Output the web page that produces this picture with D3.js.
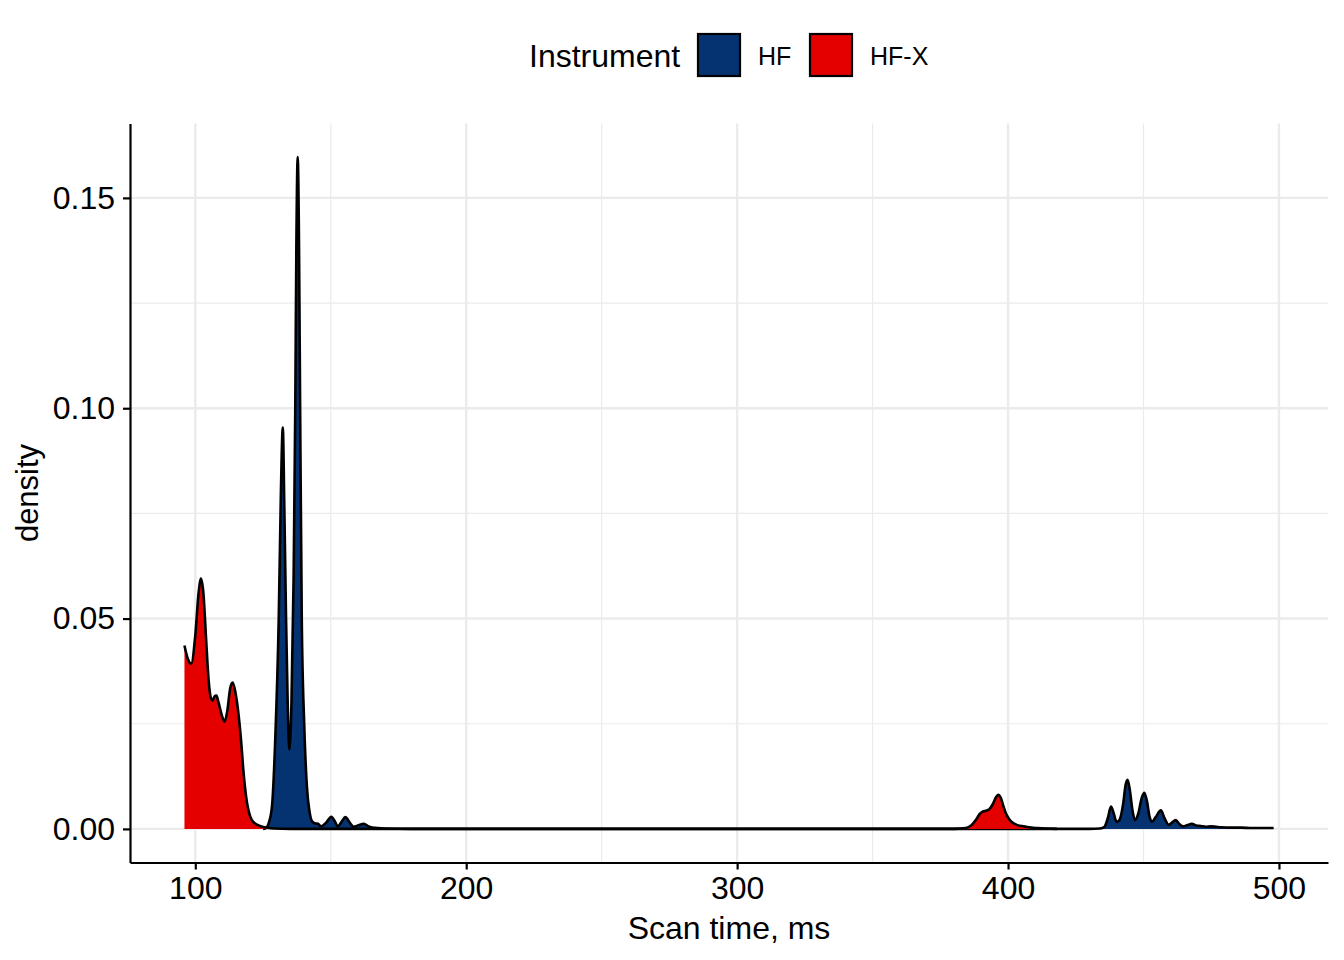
<!DOCTYPE html>
<html>
<head>
<meta charset="utf-8">
<script src="https://cdn.jsdelivr.net/npm/d3@7"></script>
<style>
  body { margin: 0; background: #fff; }
  text { font-family: "Liberation Sans", Arial, sans-serif; fill: #000; }
</style>
</head>
<body>
<script>
const instruments = ["HF", "HF-X"];

const hfScanTime = [125, 126.3, 127.1, 128.3, 129.5, 130.8, 131.6, 132.3, 132.9, 133.5, 134.1, 134.7,
  135.5, 136.3, 136.9, 137.3, 137.8, 138.3, 138.7, 139.3, 140.2, 141.2, 142.2, 143.1, 144.3, 145.3,
  146.4, 148.3, 150.2, 151.5, 152.6, 154, 155.4, 157, 158.5, 160.3, 162.2, 164, 165.3, 170, 180, 250,
  350, 430, 434, 435.5, 436.8, 438, 439.1, 440, 441, 442.5, 443.4, 444.1, 444.9, 445.9, 446.9, 448,
  449.4, 450.3, 451.3, 452.2, 453.1, 454.5, 456.4, 457.8, 459.3, 460.5, 461.9, 463.2, 464.6, 466.2,
  467.8, 469.5, 471.2, 473, 474.9, 476.8, 478.6, 482, 486, 490, 494, 498];
const hfDensity = [0, 0.0003, 0.0014, 0.0053, 0.021, 0.05, 0.08, 0.0954, 0.075, 0.05, 0.03, 0.0188,
  0.03, 0.06, 0.1, 0.138, 0.1597, 0.138, 0.1, 0.05, 0.025, 0.01, 0.004, 0.0018, 0.0013, 0.0012,
  0.0006, 0.0015, 0.0029, 0.0018, 0.0006, 0.0017, 0.0028, 0.0015, 0.0005, 0.0009, 0.0012, 0.0006,
  0.0003, 0.0001, 0, 0, 0, 0, 0.0001, 0.0004, 0.0025, 0.0053, 0.0035, 0.0017, 0.002, 0.006, 0.0105,
  0.0117, 0.0095, 0.0045, 0.0021, 0.0035, 0.0075, 0.0086, 0.0065, 0.003, 0.0017, 0.0028, 0.0044,
  0.0025, 0.001, 0.0015, 0.0021, 0.0012, 0.0006, 0.0009, 0.0012, 0.0008, 0.0007, 0.0005, 0.0006,
  0.0005, 0.0004, 0.0003, 0.0003, 0.0002, 0.0002, 0.0002];

const hfxScanTime = [96, 97.2, 98.5, 100, 101.2, 102.1, 103, 104, 104.9, 105.8, 106.4, 107.1, 107.8,
  108.6, 109.8, 110.8, 111.8, 112.9, 113.8, 114.8, 116, 116.9, 117.8, 118.8, 120.3, 121.5, 122.8,
  124.5, 126.5, 129, 135, 200, 300, 380, 384.4, 386.5, 388.1, 389.5, 390.6, 391.8, 393.1, 394.6,
  395.6, 396.4, 397.3, 398.2, 399.2, 400.3, 401.6, 403.5, 405.9, 408.5, 410.9, 414, 418];
const hfxDensity = [0.0436, 0.0405, 0.0393, 0.046, 0.056, 0.0595, 0.056, 0.045, 0.0355, 0.031, 0.0305,
  0.0315, 0.0317, 0.03, 0.027, 0.0255, 0.028, 0.0335, 0.0348, 0.0325, 0.027, 0.021, 0.0135, 0.0075,
  0.0029, 0.0016, 0.001, 0.0006, 0.0003, 0.0001, 0, 0, 0, 0, 0.0002, 0.0009, 0.0021, 0.0035, 0.0041,
  0.0043, 0.0047, 0.0062, 0.0076, 0.0081, 0.0074, 0.0056, 0.0037, 0.0024, 0.0015, 0.0009, 0.0006,
  0.0003, 0.0002, 0.0001, 0];

const xTicks = [100, 200, 300, 400, 500];
const xMinorTicks = [150, 250, 350, 450];
const yTicks = [0, 0.05, 0.10, 0.15];
const yMinorTicks = [0.025, 0.075, 0.125];

const series = [
  {name: "HF", values: hfScanTime.map((x, i) => ({x: x, y: hfDensity[i]}))},
  {name: "HF-X", values: hfxScanTime.map((x, i) => ({x: x, y: hfxDensity[i]}))}
];

// Dimensions
const W = 1344, H = 960;
const margin = {top: 123.5, right: 16, bottom: 97.5, left: 130};
const width = W - margin.left - margin.right;
const height = H - margin.top - margin.bottom;

const svg = d3.select("body").append("svg")
    .attr("width", W)
    .attr("height", H);

const g = svg.append("g")
    .attr("transform", "translate(" + margin.left + "," + margin.top + ")");

// Scales with ggplot-like 5% expansion
const allX = hfScanTime.concat(hfxScanTime);
const xMin = d3.min(allX), xMax = d3.max(allX);
const xPad = (xMax - xMin) * 0.05;
const xScale = d3.scaleLinear()
    .domain([xMin - xPad, xMax + xPad])
    .range([0, width]);

const yMax = d3.max(hfDensity.concat(hfxDensity));
const yScale = d3.scaleLinear()
    .domain([-yMax * 0.05, yMax * 1.05])
    .range([height, 0]);

const colorScale = d3.scaleOrdinal()
    .domain(instruments)
    .range(["#053372", "#E50000"]);

// Grid lines
g.selectAll(".xminor").data(xMinorTicks).enter().append("line")
    .attr("x1", d => xScale(d)).attr("x2", d => xScale(d))
    .attr("y1", 0).attr("y2", height)
    .attr("stroke", "#EBEBEB").attr("stroke-width", 1.2);

g.selectAll(".yminor").data(yMinorTicks).enter().append("line")
    .attr("x1", 0).attr("x2", width)
    .attr("y1", d => yScale(d)).attr("y2", d => yScale(d))
    .attr("stroke", "#EBEBEB").attr("stroke-width", 1.2);

g.selectAll(".xmajor").data(xTicks).enter().append("line")
    .attr("x1", d => xScale(d)).attr("x2", d => xScale(d))
    .attr("y1", 0).attr("y2", height)
    .attr("stroke", "#EBEBEB").attr("stroke-width", 2.4);

g.selectAll(".ymajor").data(yTicks).enter().append("line")
    .attr("x1", 0).attr("x2", width)
    .attr("y1", d => yScale(d)).attr("y2", d => yScale(d))
    .attr("stroke", "#EBEBEB").attr("stroke-width", 2.4);

// Density areas with upper outline
const area = d3.area()
    .curve(d3.curveMonotoneX)
    .x(d => xScale(d.x))
    .y0(yScale(0))
    .y1(d => yScale(d.y));

const line = d3.line()
    .curve(d3.curveMonotoneX)
    .x(d => xScale(d.x))
    .y(d => yScale(d.y));

series.forEach(function(s) {
    g.append("path")
        .attr("d", area(s.values))
        .attr("fill", colorScale(s.name));
    g.append("path")
        .attr("d", line(s.values))
        .attr("fill", "none")
        .attr("stroke", "#000")
        .attr("stroke-width", 2.6)
        .attr("stroke-linejoin", "round");
});

// Axes
const xAxis = g.append("g")
    .attr("transform", "translate(0," + height + ")")
    .call(d3.axisBottom(xScale).tickValues(xTicks).tickSize(7).tickSizeOuter(0).tickPadding(7));

const yAxis = g.append("g")
    .call(d3.axisLeft(yScale).tickValues(yTicks).tickFormat(d3.format(".2f"))
        .tickSize(7).tickSizeOuter(0).tickPadding(8));

[xAxis, yAxis].forEach(function(ax) {
    ax.select(".domain").attr("stroke", "#000").attr("stroke-width", 2.2);
    ax.selectAll(".tick line").attr("stroke", "#000").attr("stroke-width", 2.2);
    ax.selectAll(".tick text")
        .style("font-family", "'Liberation Sans', Arial, sans-serif")
        .style("font-size", "32px")
        .attr("fill", "#000");
});

// Axis titles
svg.append("text")
    .attr("x", margin.left + width / 2)
    .attr("y", 939)
    .attr("text-anchor", "middle")
    .style("font-size", "32px")
    .text("Scan time, ms");

svg.append("text")
    .attr("transform", "translate(38," + (margin.top + height / 2) + ") rotate(-90)")
    .attr("text-anchor", "middle")
    .style("font-size", "31px")
    .text("density");

// Legend
const legend = svg.append("g");

legend.append("text")
    .attr("x", 529)
    .attr("y", 67)
    .style("font-size", "32px")
    .text("Instrument");

const keys = legend.selectAll(".key")
    .data(instruments)
    .enter().append("g")
    .attr("transform", (d, i) => "translate(" + (698 + i * 112) + ",34)");

keys.append("rect")
    .attr("width", 42)
    .attr("height", 42)
    .attr("fill", colorScale)
    .attr("stroke", "#000")
    .attr("stroke-width", 2.2);

keys.append("text")
    .attr("x", 60)
    .attr("y", 31)
    .style("font-size", "25px")
    .text(d => d);
</script>
</body>
</html>
